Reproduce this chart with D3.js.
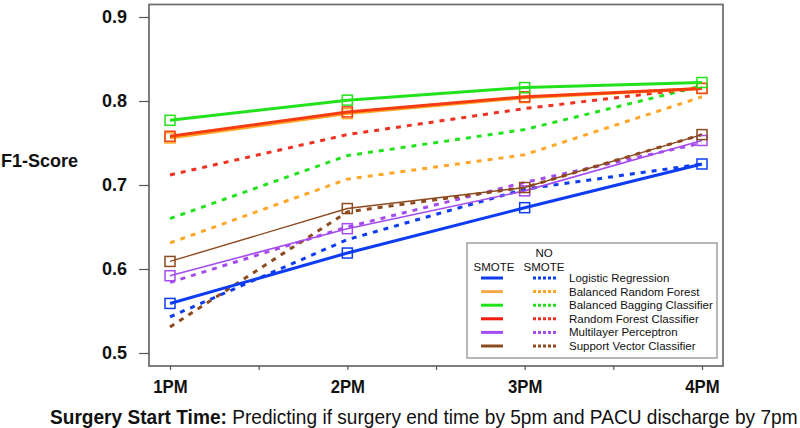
<!DOCTYPE html>
<html><head><meta charset="utf-8">
<script src="https://cdn.jsdelivr.net/npm/d3@7"></script>
<style>body{margin:0;background:#fff;font-family:"Liberation Sans",Arial,sans-serif;}</style>
</head><body><svg id="c" width="800" height="428"></svg>
<script>
const times = ["1PM","2PM","3PM","4PM"];
const timeValues = [1,2,3,4];
const modelNames = ["Logistic Regression","Balanced Random Forest","Balanced Bagging Classifier","Random Forest Classifier","Multilayer Perceptron","Support Vector Classifier"];
const modelColors = ["#0d3cf2","#ffa628","#22e21c","#f43c10","#a54cf0","#8c4a1e"];
const legendColors = ["#0d3cf2","#f7a64a","#22e21c","#f41a10","#a54cf0","#8c4a1e"];
const dottedColors = ["#0d3cf2","#ffa628","#22e21c","#f03020","#a54cf0","#8c4a1e"];
// SMOTE (solid)
const smoteLR  = [0.559,0.619,0.673,0.725];
const smoteBRF = [0.756,0.785,0.804,0.815];
const smoteBBC = [0.777,0.801,0.816,0.822];
const smoteRFC = [0.758,0.787,0.805,0.815];
const smoteMLP = [0.592,0.648,0.693,0.753];
const smoteSVC = [0.609,0.672,0.697,0.760];
// NO SMOTE (dotted)
const noSmoteLR  = [0.543,0.635,0.695,0.725];
const noSmoteBRF = [0.631,0.707,0.736,0.805];
const noSmoteBBC = [0.660,0.735,0.766,0.818];
const noSmoteRFC = [0.712,0.760,0.791,0.816];
const noSmoteMLP = [0.584,0.650,0.703,0.750];
const noSmoteSVC = [0.531,0.668,0.697,0.760];
const yTicks = [0.5,0.6,0.7,0.8,0.9];

const smote = [smoteLR,smoteBRF,smoteBBC,smoteRFC,smoteMLP,smoteSVC];
const noSmote = [noSmoteLR,noSmoteBRF,noSmoteBBC,noSmoteRFC,noSmoteMLP,noSmoteSVC];
const solidWidths = [3,3,3,3,1.6,1.4];

const svg = d3.select("#c");
const x = d3.scaleLinear().domain([1,4]).range([170,702]);
const y = d3.scaleLinear().domain([0.5,0.9]).range([353,17]);

svg.append("rect").attr("x",149).attr("y",4.5).attr("width",574).attr("height",361.5)
  .attr("fill","none").attr("stroke","#707070").attr("stroke-width",1.8);

const yAxis = d3.axisLeft(y).tickValues(yTicks).tickSize(10).tickPadding(12).tickFormat(d3.format(".1f"));
const gy = svg.append("g").attr("transform","translate(149,0)").call(yAxis);
gy.select(".domain").remove();
gy.selectAll(".tick line").attr("stroke","#555").attr("stroke-width",1.2);
gy.selectAll(".tick text").attr("font-size",18).attr("font-weight","bold").attr("fill","#111")
  .attr("font-family","Liberation Sans, Arial, sans-serif");

const xAxis = d3.axisBottom(x).tickValues([1,1.5,2,2.5,3,3.5,4]).tickSize(4).tickPadding(10)
  .tickFormat(d => Number.isInteger(d) ? times[timeValues.indexOf(d)] : "");
const gx = svg.append("g").attr("transform","translate(0,366)").call(xAxis);
gx.select(".domain").remove();
gx.selectAll(".tick line").attr("stroke","#555").attr("stroke-width",1.2);
gx.selectAll(".tick text").attr("font-size",19).attr("font-weight","bold").attr("fill","#111")
  .attr("font-family","Liberation Sans, Arial, sans-serif")
  .attr("transform","scale(0.88,1)").attr("x",0);

const line = d3.line().x((d,i)=>x(timeValues[i])).y(d=>y(d));

noSmote.forEach((s,k)=>{
  svg.append("path").datum(s).attr("d",line).attr("fill","none")
    .attr("stroke",dottedColors[k]).attr("stroke-width",3).attr("stroke-dasharray","5,6");
});
const order = [0,4,5,1,3,2];
order.forEach(k=>{
  const s = smote[k];
  svg.append("path").datum(s).attr("d",line).attr("fill","none")
    .attr("stroke",modelColors[k]).attr("stroke-width",solidWidths[k]);
  svg.append("g").selectAll("rect").data(s).join("rect")
    .attr("x",(d,i)=>x(timeValues[i])-5).attr("y",d=>y(d)-5)
    .attr("width",10).attr("height",10).attr("fill","none")
    .attr("stroke",modelColors[k]).attr("stroke-width",1.5);
});

svg.append("text").attr("x",1).attr("y",167).attr("font-size",18).attr("font-weight","bold")
  .attr("fill","#111").text("F1-Score");

const xt = svg.append("text").attr("x",0).attr("y",424).attr("font-size",20).attr("fill","#111");
xt.append("tspan").attr("font-weight","bold").text("Surgery Start Time: ");
xt.append("tspan").text("Predicting if surgery end time by 5pm and PACU discharge by 7pm");
const w = xt.node().getComputedTextLength();
const sx = 748 / w;
xt.attr("transform",`translate(50,0) scale(${sx},1)`);

const lg = svg.append("g");
lg.append("rect").attr("x",467).attr("y",243).attr("width",250).attr("height",115)
  .attr("fill","#fff").attr("stroke","#888").attr("stroke-width",1.2);
lg.append("text").attr("x",544).attr("y",257).attr("text-anchor","middle").attr("font-size",11.5).attr("fill","#111").text("NO");
lg.append("text").attr("x",494).attr("y",271).attr("text-anchor","middle").attr("font-size",11.5).attr("fill","#111").text("SMOTE");
lg.append("text").attr("x",544).attr("y",271).attr("text-anchor","middle").attr("font-size",11.5).attr("fill","#111").text("SMOTE");
modelNames.forEach((n,i)=>{
  const yy = 278 + i*13.6;
  lg.append("line").attr("x1",481).attr("x2",503).attr("y1",yy).attr("y2",yy)
    .attr("stroke",legendColors[i]).attr("stroke-width",3);
  lg.append("line").attr("x1",533).attr("x2",556).attr("y1",yy).attr("y2",yy)
    .attr("stroke",dottedColors[i]).attr("stroke-width",3).attr("stroke-dasharray","3,2");
  lg.append("text").attr("x",569).attr("y",yy+4).attr("font-size",11.5).attr("fill","#111").text(n);
});
</script></body></html>
